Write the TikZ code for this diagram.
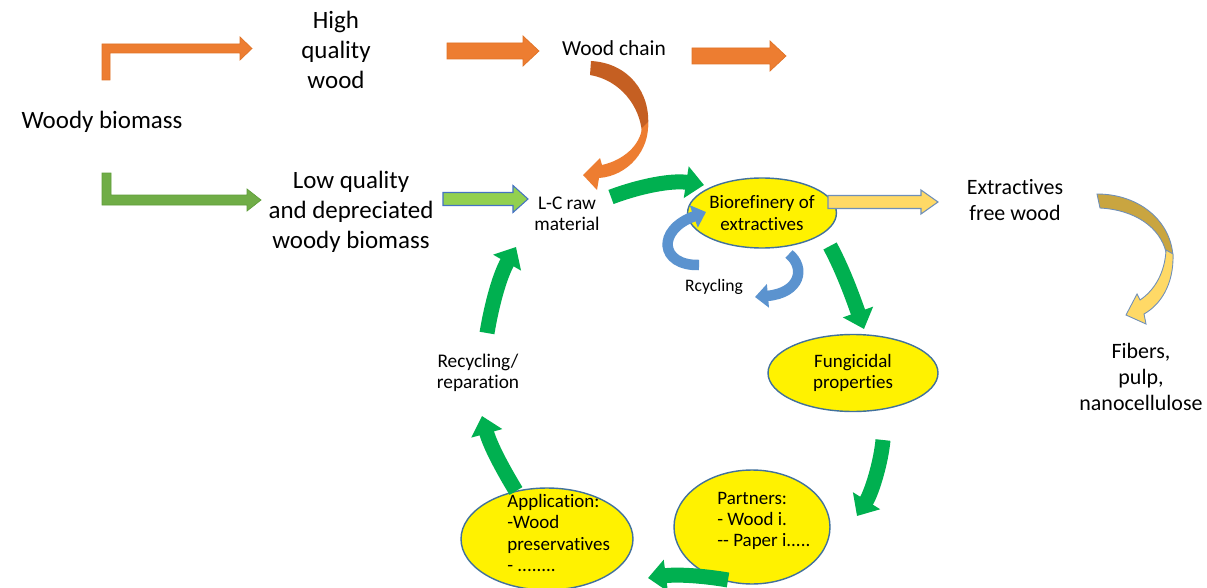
\documentclass[tikz,border=0pt]{standalone}
\usepackage{fontspec}
\setmainfont[Ligatures={TeX,NoCommon}]{Carlito}
\usetikzlibrary{shapes.geometric,arrows.meta}

\definecolor{orangeA}{HTML}{ED7D31}
\definecolor{orangeD}{HTML}{C55F22}
\definecolor{orangeE}{HTML}{E07327}
\definecolor{greenL}{HTML}{70AD47}
\definecolor{greenLE}{HTML}{5F9E3A}
\definecolor{lime}{HTML}{92D050}
\definecolor{blueE}{HTML}{4472C4}
\definecolor{cycgreen}{HTML}{00B050}
\definecolor{ellipseE}{HTML}{41719C}
\definecolor{goldL}{HTML}{FFD966}
\definecolor{goldD}{HTML}{C9A540}
\definecolor{goldE}{HTML}{6F8FB8}
\definecolor{recblue}{HTML}{5B93CF}

\begin{document}
\begin{tikzpicture}[x=0.02cm,y=-0.02cm,
  bigtext/.style={font=\fontsize{14.2pt}{17pt}\selectfont, align=center, inner sep=0pt},
  lgtext/.style={font=\fontsize{12.5pt}{14.8pt}\selectfont, align=center, inner sep=0pt},
  midtext/.style={font=\fontsize{12.2pt}{14.5pt}\selectfont, align=center, inner sep=0pt},
  smalltext/.style={font=\fontsize{11pt}{12.2pt}\selectfont, align=center, inner sep=0pt},
  tinytext/.style={font=\fontsize{10pt}{12pt}\selectfont, inner sep=0pt},
  bubble/.style={ellipse, draw=ellipseE, line width=0.8pt, fill=yellow, inner sep=0pt,
    font=\fontsize{10.8pt}{12pt}\selectfont, align=center},
  bubbletext/.style={font=\fontsize{10.8pt}{12pt}\selectfont, align=left, inner sep=0pt},
  cycle arrow/.style={draw=cycgreen, line width=0.3cm, -{Triangle[width=0.62cm,length=0.36cm]}},
  rec arrow/.style={draw=recblue, line width=0.21cm, -{Triangle[width=0.46cm,length=0.26cm]}},
  orange block/.style={fill=orangeA, draw=orangeE, line width=0.4pt},
  green block/.style={fill=greenL, draw=greenLE, line width=0.4pt},
  lime block/.style={fill=lime, draw=blueE, line width=0.6pt},
  gold block/.style={fill=goldL, draw=goldE, line width=0.6pt}
]
\useasboundingbox (0,0) rectangle (1207,588);
\fill[white] (0,0) rectangle (1207,588);
\clip (0,0) rectangle (1207,588);

% ---------- text labels ----------
\node[bigtext] (woody) at (102,122) {Woody biomass};
\node[bigtext] (hq) at (336,50) {High\\quality\\wood};
\node[midtext] (chain) at (614,48) {Wood chain};
\node[bigtext] (lq) at (351,212) {Low quality\\and depreciated\\woody biomass};
\node[smalltext] (lc) at (567,214) {L-C raw\\material};
\node[lgtext] (free) at (1015,200) {Extractives\\free wood};
\node[lgtext] (fibers) at (1141,377) {Fibers,\\pulp,\\nanocellulose};
\node[tinytext] (rcy) at (714,287) {Rcycling};
\node[smalltext] (repar) at (478,373) {Recycling/\\reparation};

% ---------- yellow bubbles ----------
\node[bubble, minimum width=2.64cm, minimum height=1.4cm] (bio) at (762,213) {Biorefinery of\\extractives};
\node[bubble, minimum width=3.4cm, minimum height=1.54cm] (fung) at (853,373) {Fungicidal\\properties};
\node[bubble, minimum width=3.12cm, minimum height=2.28cm] (partners) at (752,527) {};
\node[bubbletext, anchor=west] (partnerstext) at (717,521) {Partners:\\- Wood i.\\-\kern0pt- Paper i.....};
\node[bubble, minimum width=3.44cm, minimum height=2.04cm] (app) at (547,539) {};
\node[bubbletext, anchor=west] (apptext) at (507,533) {Application:\\-Wood\\preservatives\\- ........};

% ---------- straight block arrows ----------
% orange elbow from woody biomass
\draw[orange block] (102,80) -- (102,44) -- (240,44) -- (240,37) -- (252,48.5)
  -- (240,60) -- (240,53) -- (110,53) -- (110,80) -- cycle;
% orange arrows along the wood chain
\draw[orange block] (447,43) -- (523,43) -- (523,36) -- (539,51) -- (523,66)
  -- (523,59) -- (447,59) -- cycle;
\draw[orange block] (692,48) -- (770,48) -- (770,41) -- (786,56) -- (770,71)
  -- (770,64) -- (692,64) -- cycle;
% green elbow from woody biomass
\draw[green block] (102,173) -- (111,173) -- (111,195) -- (247,195) -- (247,189)
  -- (261,200) -- (247,211) -- (247,205) -- (102,205) -- cycle;
% lime arrow towards the raw material
\draw[lime block] (443,192.5) -- (513,192.5) -- (513,185.5) -- (528,199) -- (513,212.5)
  -- (513,205.5) -- (443,205.5) -- cycle;
% yellow arrow to extractives free wood
\draw[gold block] (828,195.5) -- (921,195.5) -- (921,190) -- (938,202) -- (921,214)
  -- (921,208.5) -- (828,208.5) -- cycle;

% ---------- curved orange arrow (wood chain -> raw material) ----------
\fill[orangeD] (591,61) .. controls (628,63) and (651,92) .. (648,127)
  -- (642,133) .. controls (640,106) and (620,80) .. (590,75) -- cycle;
\fill[orangeA] (648,122) .. controls (650,150) and (628,176) .. (599,178)
  -- (597,190) -- (583,175) -- (600,158) -- (602,165)
  .. controls (624,160) and (640,145) .. (642,128) -- cycle;

% ---------- curved gold arrow (free wood -> fibers) ----------
\filldraw[fill=goldD, draw=goldE, line width=0.5pt]
  (1097,194) .. controls (1140,194) and (1172,222) .. (1173,258)
  -- (1166,252) .. controls (1160,228) and (1136,210) .. (1100,208) -- cycle;
\filldraw[fill=goldL, draw=goldE, line width=0.5pt]
  (1173,254) .. controls (1174,285) and (1160,305) .. (1144,314)
  -- (1146,324) -- (1126,315) -- (1137,294) -- (1140,300)
  .. controls (1155,290) and (1165,272) .. (1166,250) -- cycle;

% ---------- blue recycling loops ----------
\coordinate (b1s) at (699,265); \coordinate (b1e) at (706,212);
\draw[rec arrow] (b1s) .. controls (660,266) and (656,230) .. (b1e);
\coordinate (b2s) at (789,254); \coordinate (b2e) at (755,297);
\draw[rec arrow] (b2s) .. controls (806,268) and (800,293) .. (b2e);

% ---------- green value cycle ----------
\coordinate (g1s) at (611,197); \coordinate (g1e) at (704,185);
\draw[cycle arrow] (g1s) .. controls (640,186) and (672,180) .. (g1e);
\coordinate (g2s) at (830,246); \coordinate (g2e) at (864,329);
\draw[cycle arrow] (g2s) .. controls (843,270) and (853,298) .. (g2e);
\coordinate (g3s) at (883,440); \coordinate (g3e) at (857,516);
\draw[cycle arrow] (g3s) .. controls (881,462) and (872,492) .. (g3e);
\coordinate (g4s) at (728,580); \coordinate (g4e) at (648,578);
\draw[cycle arrow] (g4s) .. controls (705,576) and (678,574) .. (g4e);
\coordinate (g5s) at (516,491); \coordinate (g5e) at (482,416);
\draw[cycle arrow] (g5s) .. controls (502,468) and (490,445) .. (g5e);
\coordinate (g6s) at (487,333); \coordinate (g6e) at (516,247);
\draw[cycle arrow] (g6s) .. controls (492,303) and (500,275) .. (g6e);
\end{tikzpicture}
\end{document}
